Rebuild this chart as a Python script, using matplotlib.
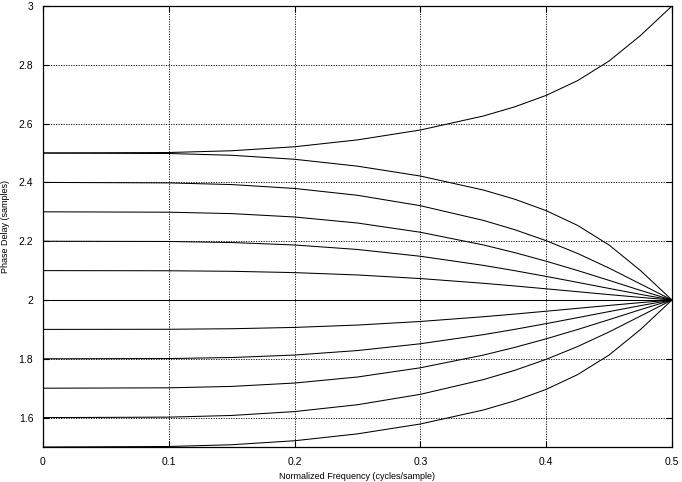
import matplotlib
matplotlib.use("Agg")
import matplotlib.pyplot as plt

plt.rcParams['font.family'] = ['Liberation Sans', 'DejaVu Sans']

# normalized frequency (cycles/sample)
freq = [0, 0.1, 0.15, 0.2, 0.25, 0.3, 0.35, 0.375, 0.4, 0.425, 0.45, 0.475, 0.5]

# phase delay curves (samples), one per delay setting
d250 = [2.5, 2.4983, 2.4923, 2.4787, 2.4553, 2.4217, 2.3742, 2.3429, 2.3040, 2.2537, 2.1871, 2.1002, 2.0]
d240 = [2.4, 2.3984, 2.3927, 2.3795, 2.3562, 2.3208, 2.2709, 2.2392, 2.2018, 2.1583, 2.1086, 2.0545, 2.0]
d230 = [2.3, 2.2987, 2.2939, 2.2824, 2.2619, 2.2305, 2.1874, 2.1612, 2.1320, 2.1003, 2.0668, 2.0327, 2.0]
d220 = [2.2, 2.1991, 2.1956, 2.1872, 2.1719, 2.1488, 2.1179, 2.0998, 2.0803, 2.0600, 2.0394, 2.0191, 2.0]
d210 = [2.1, 2.0995, 2.0977, 2.0932, 2.0852, 2.0730, 2.0569, 2.0478, 2.0381, 2.0283, 2.0184, 2.0089, 2.0]
d200 = [2.0, 2.0, 2.0, 2.0, 2.0, 2.0, 2.0, 2.0, 2.0, 2.0, 2.0, 2.0, 2.0]
d190 = [1.9, 1.9005, 1.9023, 1.9068, 1.9148, 1.9270, 1.9431, 1.9522, 1.9619, 1.9717, 1.9816, 1.9911, 2.0]
d180 = [1.8, 1.8009, 1.8044, 1.8128, 1.8281, 1.8512, 1.8821, 1.9002, 1.9197, 1.9400, 1.9606, 1.9809, 2.0]
d170 = [1.7, 1.7013, 1.7061, 1.7176, 1.7381, 1.7695, 1.8126, 1.8388, 1.8680, 1.8997, 1.9332, 1.9673, 2.0]
d160 = [1.6, 1.6016, 1.6073, 1.6205, 1.6438, 1.6792, 1.7291, 1.7608, 1.7982, 1.8417, 1.8914, 1.9455, 2.0]
d150 = [1.5, 1.5017, 1.5077, 1.5213, 1.5447, 1.5783, 1.6258, 1.6571, 1.6960, 1.7463, 1.8129, 1.8998, 2.0]
d250b = [2.5, 2.5017, 2.5077, 2.5213, 2.5447, 2.5783, 2.6258, 2.6571, 2.6960, 2.7463, 2.8129, 2.8998, 3.0]

curves = [d250b, d250, d240, d230, d220, d210, d200, d190, d180, d170, d160, d150]

xticks = [0, 0.1, 0.2, 0.3, 0.4, 0.5]
yticks = [1.6, 1.8, 2.0, 2.2, 2.4, 2.6, 2.8, 3.0]

fig = plt.figure(figsize=(6.82, 4.82), dpi=100)
ax = fig.add_axes([0.0630, 0.0726, 0.9223, 0.9149])

# dotted grid
ax.set_axisbelow(True)
ax.grid(True, color='black', linestyle=(0, (1.5, 1.5)), linewidth=0.6)

for c in curves:
    ax.plot(freq, c, color='black', linewidth=0.75)

ax.set_xlim(0, 0.5)
ax.set_ylim(1.5, 3)
ax.set_xticks(xticks)
ax.set_yticks(yticks)
ax.set_xticklabels(['%g' % v for v in xticks])
ax.set_yticklabels(['%g' % v for v in yticks])
ax.tick_params(direction='in', length=4, width=0.8, labelsize=7.5, pad=7,
               top=True, right=True)
for s in ax.spines.values():
    s.set_linewidth(0.9)

ax.set_xlabel('Normalized Frequency (cycles/sample)', fontsize=6.5, labelpad=4)
ax.set_ylabel('Phase Delay (samples)', fontsize=6.5, labelpad=6)

fig.savefig('out.png', dpi=100)
